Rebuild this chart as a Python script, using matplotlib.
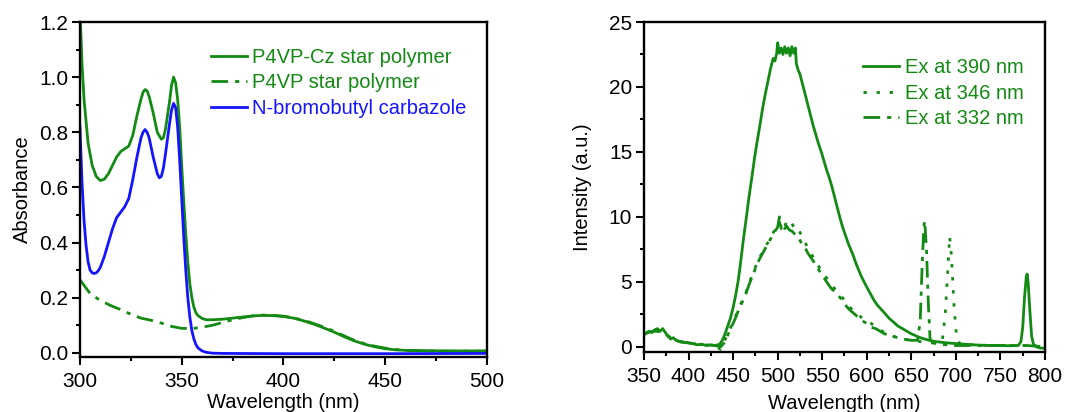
import matplotlib
matplotlib.use("Agg")
import matplotlib.pyplot as plt
from matplotlib.ticker import MultipleLocator

plt.rcParams['font.family'] = ['Liberation Sans', 'DejaVu Sans']

GREEN = '#138a13'
BLUE = '#1414ff'

# ---------------- Left panel: absorbance ----------------
cz_x = [300, 301, 302, 304, 306, 308, 310, 312, 314, 316, 318, 320, 322, 324, 326, 328, 330,
        331, 332, 333, 334, 336, 338, 340, 341, 342, 344, 345, 346, 347, 348, 349, 350, 351,
        352, 353, 354, 355, 356, 357, 358, 360, 362, 365, 370, 375, 380, 385, 390, 395, 400,
        405, 410, 415, 420, 425, 430, 435, 440, 445, 450, 455, 460, 470, 480, 490, 500]
cz_y = [1.25, 1.05, 0.92, 0.76, 0.68, 0.64, 0.625, 0.63, 0.65, 0.68, 0.71, 0.73, 0.74, 0.75,
        0.79, 0.86, 0.92, 0.945, 0.955, 0.95, 0.93, 0.87, 0.80, 0.775, 0.78, 0.81, 0.91, 0.97,
        1.0, 0.98, 0.92, 0.82, 0.68, 0.55, 0.43, 0.33, 0.25, 0.2, 0.165, 0.145, 0.135, 0.125,
        0.12, 0.12, 0.122, 0.126, 0.13, 0.134, 0.136, 0.135, 0.132, 0.126, 0.116, 0.104, 0.09,
        0.075, 0.058, 0.043, 0.031, 0.022, 0.015, 0.011, 0.009, 0.008, 0.007, 0.007, 0.007]

p4vp_x = [300, 305, 310, 315, 320, 325, 330, 335, 340, 345, 350, 355, 360, 365, 370, 375, 380,
          385, 390, 395, 400, 405, 410, 415, 420, 425, 430, 435, 440, 445, 450, 455, 460, 470,
          480, 490, 500]
p4vp_y = [0.265, 0.215, 0.19, 0.172, 0.157, 0.14, 0.126, 0.118, 0.108, 0.096, 0.089, 0.088,
          0.093, 0.1, 0.11, 0.12, 0.128, 0.134, 0.137, 0.136, 0.133, 0.127, 0.118, 0.106, 0.093,
          0.078, 0.061, 0.045, 0.033, 0.024, 0.017, 0.012, 0.009, 0.007, 0.006, 0.006, 0.006]

nbc_x = [300, 301, 302, 303, 304, 305, 306, 307, 308, 309, 310, 312, 314, 316, 318, 320, 322,
         324, 326, 328, 330, 331, 332, 333, 334, 336, 338, 339, 340, 341, 342, 344, 345, 346,
         347, 348, 349, 350, 351, 352, 353, 354, 355, 356, 357, 358, 360, 362, 365, 370, 400,
         450, 500]
nbc_y = [0.82, 0.62, 0.48, 0.39, 0.33, 0.3, 0.29, 0.288, 0.29, 0.298, 0.31, 0.35, 0.4, 0.45,
         0.49, 0.51, 0.53, 0.56, 0.63, 0.71, 0.78, 0.80, 0.81, 0.80, 0.78, 0.71, 0.65, 0.635,
         0.64, 0.67, 0.72, 0.83, 0.88, 0.905, 0.89, 0.82, 0.70, 0.56, 0.42, 0.3, 0.2, 0.13,
         0.08, 0.05, 0.03, 0.018, 0.007, 0.002, -0.001, -0.002, -0.003, -0.003, -0.002]

abs_xticks = [300, 350, 400, 450, 500]
abs_yticks = [0.0, 0.2, 0.4, 0.6, 0.8, 1.0, 1.2]
abs_labels = ['P4VP-Cz star polymer', 'P4VP star polymer', 'N-bromobutyl carbazole']

# ---------------- Right panel: PL intensity ----------------
ex390_x = [350, 353, 356, 359, 362, 365, 368, 371, 374, 377, 380, 383, 386, 390, 395, 400, 405,
           410, 415, 420, 425, 430, 435, 438, 441, 444, 447, 450, 453, 456, 459, 462, 465, 468,
           471, 474, 477, 480, 483, 486, 489, 492, 495, 497, 499, 500, 502, 504, 506, 508, 510,
           512, 514, 516, 518, 520, 521, 523, 525, 528, 531, 534, 537, 540, 543, 546, 549, 552,
           555, 558, 561, 564, 567, 570, 573, 576, 579, 582, 585, 588, 591, 594, 597, 600, 604,
           608, 612, 616, 620, 625, 630, 635, 640, 645, 650, 655, 660, 665, 670, 675, 680, 690,
           700, 710, 720, 730, 740, 750, 760, 770, 773, 775, 777, 779, 780, 781, 783, 785, 787,
           790, 795, 800]
ex390_y = [0.9, 1.1, 1.2, 1.1, 1.3, 1.4, 1.2, 1.4, 1.1, 0.8, 0.6, 0.7, 0.5, 0.4, 0.35, 0.3,
           0.25, 0.15, 0.2, 0.1, 0.15, 0.1, 0.2, 0.5, 1.0, 1.6, 2.2, 3.0, 4.0, 5.2, 6.8, 8.5, 10.0,
           11.6, 13.0, 14.5, 15.8, 17.0, 18.3, 19.4, 20.4, 21.4, 22.2, 22.0, 22.6, 23.4, 22.6,
           23.0, 22.5, 23.1, 22.6, 23.0, 22.4, 23.1, 22.6, 23.0, 21.8, 21.3, 21.0, 20.2, 19.4,
           18.6, 17.8, 17.0, 16.3, 15.6, 15.0, 14.3, 13.6, 13.0, 12.3, 11.5, 10.7, 9.9, 9.2, 8.6,
           8.0, 7.5, 7.0, 6.4, 5.9, 5.4, 5.0, 4.6, 4.1, 3.6, 3.2, 2.9, 2.6, 2.2, 1.9, 1.6, 1.4,
           1.2, 1.0, 0.85, 0.7, 0.6, 0.5, 0.42, 0.38, 0.3, 0.25, 0.2, 0.15, 0.12, 0.1, 0.1, 0.08,
           0.1, 0.4, 1.5, 3.8, 5.4, 5.6, 5.0, 2.8, 0.8, 0.2, 0.0, -0.1, -0.1]

ex346_x = [350, 360, 370, 380, 390, 400, 410, 420, 430, 436, 440, 444, 448, 452, 456, 460, 464,
           468, 472, 476, 480, 484, 488, 492, 496, 500, 502, 504, 506, 508, 510, 513, 516, 519,
           522, 525, 528, 531, 534, 537, 540, 544, 548, 552, 556, 560, 565, 570, 575, 580, 585,
           590, 595, 600, 605, 610, 615, 620, 625, 630, 640, 650, 660, 670, 680, 685, 688, 691,
           693, 695, 698, 701, 705, 710, 720, 740, 760, 780, 800]
ex346_y = [1.0, 1.2, 1.2, 0.7, 0.4, 0.3, 0.2, 0.15, 0.1, -0.2, 0.4, 1.0, 1.6, 2.2, 2.9, 3.5,
           4.1, 4.9, 5.6, 6.3, 6.9, 7.4, 7.9, 8.4, 8.9, 9.3, 9.6, 9.2, 9.5, 9.3, 9.6, 9.3, 9.5,
           9.1, 9.2, 8.8, 8.5, 8.0, 7.6, 7.2, 6.9, 6.4, 6.0, 5.6, 5.2, 4.8, 4.4, 4.0, 3.6, 3.1,
           2.8, 2.5, 2.2, 2.0, 1.8, 1.5, 1.3, 1.1, 1.0, 0.8, 0.6, 0.5, 0.4, 0.3, 0.3, 0.6, 2.5,
           6.0, 8.5, 7.0, 3.0, 0.6, 0.2, 0.2, 0.15, 0.1, 0.1, 0.1, 0.0]

ex332_x = [350, 360, 370, 380, 390, 400, 410, 420, 430, 436, 440, 444, 448, 452, 456, 460, 464,
           468, 472, 476, 480, 484, 488, 492, 496, 500, 502, 504, 506, 508, 510, 513, 516, 519,
           522, 525, 528, 531, 534, 537, 540, 544, 548, 552, 556, 560, 565, 570, 575, 580, 585,
           590, 595, 600, 605, 610, 615, 620, 625, 630, 640, 650, 657, 660, 662, 664, 665, 667,
           669, 671, 675, 680, 690, 700, 720, 740, 760, 780, 800]
ex332_y = [1.0, 1.2, 1.2, 0.7, 0.4, 0.3, 0.2, 0.15, 0.1, 0.0, 0.3, 0.9, 1.5, 2.1, 2.8, 3.4,
           4.0, 4.8, 5.5, 6.2, 6.8, 7.3, 7.8, 8.3, 8.8, 9.2, 10.0, 9.1, 9.4, 9.1, 9.3, 9.0, 8.9,
           8.7, 8.6, 8.2, 7.8, 7.6, 7.2, 6.9, 6.6, 6.2, 5.7, 5.3, 4.9, 4.5, 4.2, 3.8, 3.3, 2.9,
           2.6, 2.3, 2.0, 1.8, 1.5, 1.4, 1.2, 1.0, 0.9, 0.8, 0.6, 0.5, 0.5, 2.0, 6.0, 9.2, 9.7,
           7.5, 3.5, 0.6, 0.3, 0.2, 0.15, 0.1, 0.1, 0.1, 0.1, 0.1, 0.0]

pl_xticks = [350, 400, 450, 500, 550, 600, 650, 700, 750, 800]
pl_yticks = [0, 5, 10, 15, 20, 25]
pl_labels = ['Ex at 390 nm', 'Ex at 346 nm', 'Ex at 332 nm']

# ---------------- Figure ----------------
fig = plt.figure(figsize=(10.79, 4.12), dpi=100)
ax1 = fig.add_axes([0.0741, 0.1335, 0.3772, 0.8131])
ax2 = fig.add_axes([0.5968, 0.1456, 0.3717, 0.8010])

LW = 2.0
FS_LAB = 14.5
FS_LEG = 14.5
FS_TICK = 15

ax1.plot(cz_x, cz_y, color=GREEN, lw=LW, label=abs_labels[0])
ax1.plot(p4vp_x, p4vp_y, color=GREEN, lw=LW, ls=(0, (6, 2.5, 1.5, 2.5)), label=abs_labels[1])
ax1.plot(nbc_x, nbc_y, color=BLUE, lw=LW, label=abs_labels[2])
ax1.set_xlim(300, 500)
ax1.set_ylim(-0.015, 1.2)
ax1.set_xticks(abs_xticks)
ax1.set_yticks(abs_yticks)
ax1.set_yticklabels([f'{v:.1f}' for v in abs_yticks])
ax1.xaxis.set_minor_locator(MultipleLocator(25))
ax1.yaxis.set_minor_locator(MultipleLocator(0.1))
ax1.set_xlabel('Wavelength (nm)', fontsize=FS_LAB, labelpad=2)
ax1.set_ylabel('Absorbance', fontsize=FS_LAB, labelpad=5)
leg1 = ax1.legend(loc='upper left', bbox_to_anchor=(0.322, 0.923), frameon=False, fontsize=FS_LEG,
                  handlelength=1.8, handletextpad=0.25, labelspacing=0.33, borderaxespad=0,
                  borderpad=0)
for t, c in zip(leg1.get_texts(), [GREEN, GREEN, BLUE]):
    t.set_color(c)

ax2.plot(ex390_x, ex390_y, color=GREEN, lw=LW, label=pl_labels[0])
ax2.plot(ex346_x, ex346_y, color=GREEN, lw=LW, ls=(0, (1.2, 3.5)), label=pl_labels[1])
ax2.plot(ex332_x, ex332_y, color=GREEN, lw=LW, ls=(0, (6, 2.5, 1.5, 2.5)), label=pl_labels[2])
ax2.set_xlim(350, 800)
ax2.set_ylim(-0.4, 25)
ax2.set_xticks(pl_xticks)
ax2.set_yticks(pl_yticks)
ax2.xaxis.set_minor_locator(MultipleLocator(25))
ax2.yaxis.set_minor_locator(MultipleLocator(2.5))
ax2.set_xlabel('Wavelength (nm)', fontsize=FS_LAB, labelpad=6)
ax2.set_ylabel('Intensity (a.u.)', fontsize=FS_LAB, labelpad=12)
leg2 = ax2.legend(loc='upper left', bbox_to_anchor=(0.545, 0.891), frameon=False, fontsize=FS_LEG,
                  handlelength=1.8, handletextpad=0.3, labelspacing=0.33, borderaxespad=0,
                  borderpad=0)
for t in leg2.get_texts():
    t.set_color(GREEN)

for ax in (ax1, ax2):
    for s in ax.spines.values():
        s.set_linewidth(1.7)
        s.set_color('black')
    ax.tick_params(which='both', direction='out', top=False, right=False, width=1.5,
                   labelsize=FS_TICK)
    ax.tick_params(axis='x', which='major', pad=5)
    ax.tick_params(axis='y', which='major', pad=3)
    ax.tick_params(which='major', length=5.5)
    ax.tick_params(which='minor', length=3)

fig.savefig('out.png', dpi=100)
